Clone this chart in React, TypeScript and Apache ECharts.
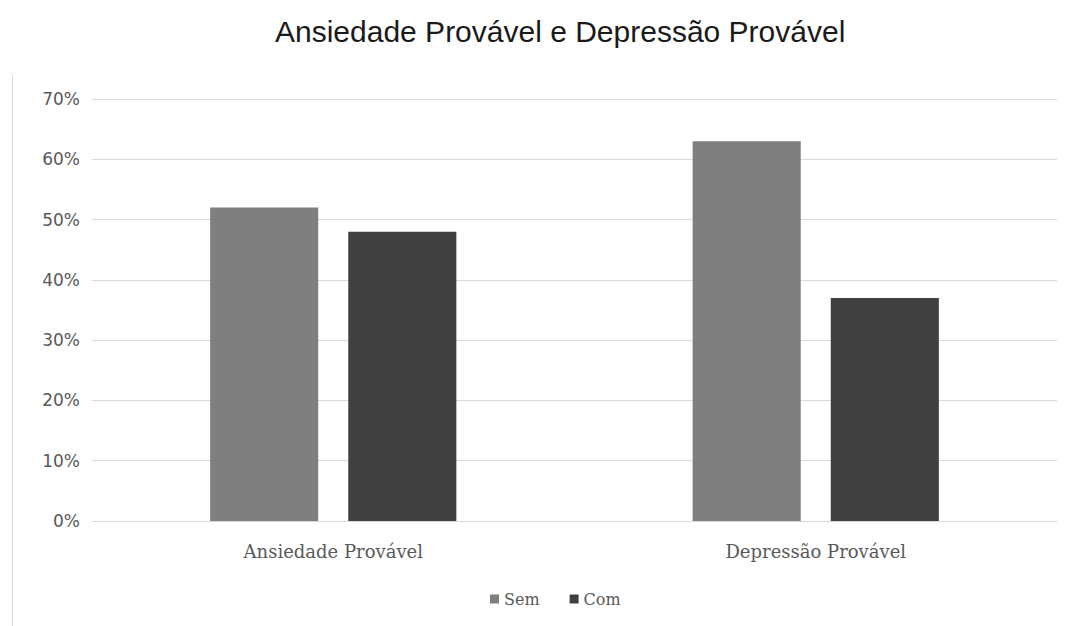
import React, { useEffect, useRef } from "react";
import * as echarts from "echarts";

const categories = ["Ansiedade Provável", "Depressão Provável"];
const semValues = [52, 63];
const comValues = [48, 37];
const seriesNames = ["Sem", "Com"];

export default function App() {
  const ref = useRef<HTMLDivElement>(null);
  useEffect(() => {
    const chart = echarts.init(ref.current!, undefined, { renderer: "svg" });
    chart.setOption({
      animation: false,
      backgroundColor: "#ffffff",
      title: {
        text: "Ansiedade Provável e Depressão Provável",
        left: 270,
        top: 11,
        textStyle: { fontFamily: "Liberation Sans, Arial", fontSize: 30, fontWeight: "normal", color: "#1a1a1a" },
      },
      legend: {
        data: seriesNames,
        bottom: 14,
        left: 485,
        itemWidth: 9,
        itemHeight: 9,
        itemGap: 30,
        icon: "rect",
        textStyle: { fontFamily: "DejaVu Serif", fontSize: 16, color: "#595959" },
      },
      grid: { left: 92, right: 15, top: 99, bottom: 105 },
      xAxis: {
        type: "category",
        data: categories,
        axisLine: { lineStyle: { color: "#d9d9d9" } },
        axisTick: { show: false },
        axisLabel: { fontFamily: "DejaVu Serif", fontSize: 18, color: "#595959", margin: 21 },
      },
      yAxis: {
        type: "value",
        min: 0,
        max: 70,
        interval: 10,
        axisLine: { show: false },
        axisTick: { show: false },
        splitLine: { lineStyle: { color: "#d9d9d9", width: 1 } },
        axisLabel: { formatter: "{value}%", fontFamily: "DejaVu Sans", fontSize: 17, color: "#595959", margin: 12 },
      },
      graphic: [
        { type: "line", shape: { x1: 12.5, y1: 75, x2: 12.5, y2: 626 }, style: { stroke: "#d9d9d9", lineWidth: 1 } },
      ],
      series: [
        { name: seriesNames[0], type: "bar", data: semValues, barWidth: "22.4%", barGap: "27.8%", itemStyle: { color: "#7f7f7f" } },
        { name: seriesNames[1], type: "bar", data: comValues, barWidth: "22.4%", barGap: "27.8%", itemStyle: { color: "#404040" } },
      ],
    });
    return () => chart.dispose();
  }, []);
  return <div ref={ref} style={{ position: "fixed", left: 0, top: 0, width: 1072, height: 626 }} />;
}
